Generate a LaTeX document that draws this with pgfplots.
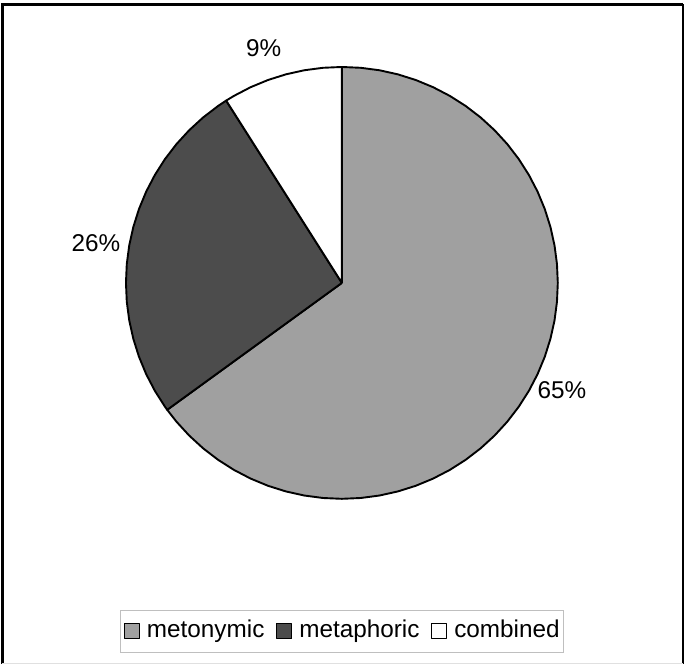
\documentclass[border=0pt]{standalone}
\usepackage{pgfplots}
\pgfplotsset{compat=1.18}
\usepackage{fontspec}
\setmainfont{Liberation Sans}
\definecolor{cMeto}{HTML}{A0A0A0}
\definecolor{cMeta}{HTML}{4C4C4C}
\begin{document}
\fontsize{24.3}{29}\selectfont
\begin{tikzpicture}
\begin{axis}[
  hide axis, clip=false, scale only axis,
  x=216pt, y=216pt,
  xmin=-1.58333, xmax=1.58333, ymin=-1.79167, ymax=1.31019,
  data cs=polar,
  legend columns=-1,
  legend cell align=left,
  legend image code/.code={\draw[#1, line width=0.9pt] (0pt,-7.5pt) rectangle (15pt,7.5pt);},
  legend style={at={(0.5,0.0575)}, anchor=center, draw=black!25, line width=1pt,
    inner xsep=4pt, inner ysep=10pt, font=\fontsize{24.3}{29}\selectfont,
    nodes={inner sep=0pt, text height=17pt, text depth=5pt},
    /tikz/every odd column/.append style={column sep=7pt},
    /tikz/every even column/.append style={column sep=12pt}},
]
\addplot[fill=cMeto, draw=black, line width=1.9pt, line join=round] coordinates {
(0,0) (90,1) (85,1) (80,1) (75,1) (70,1) (65,1) (60,1) (55,1) (50,1) (45,1) (40,1) (35,1) (30,1) (25,1) (20,1) (15,1) (10,1) (5,1) (0,1)
(-5,1) (-10,1) (-15,1) (-20,1) (-25,1) (-30,1) (-35,1) (-40,1) (-45,1) (-50,1) (-55,1) (-60,1) (-65,1) (-70,1) (-75,1) (-80,1) (-85,1) (-90,1)
(-95,1) (-100,1) (-105,1) (-110,1) (-115,1) (-120,1) (-125,1) (-130,1) (-135,1) (-140,1) (-144,1) (0,0)};
\addlegendentry{metonymic}
\addplot[fill=cMeta, draw=black, line width=1.9pt, line join=round] coordinates {
(0,0) (-144,1) (-145,1) (-150,1) (-155,1) (-160,1) (-165,1) (-170,1) (-175,1) (-180,1) (-185,1) (-190,1) (-195,1) (-200,1) (-205,1) (-210,1)
(-215,1) (-220,1) (-225,1) (-230,1) (-235,1) (-237.6,1) (0,0)};
\addlegendentry{metaphoric}
\addplot[fill=white, draw=black, line width=1.9pt, line join=round] coordinates {
(0,0) (90,1) (95,1) (100,1) (105,1) (110,1) (115,1) (120,1) (122.4,1) (0,0)};
\addlegendentry{combined}
\addplot[draw=none, mark=none, forget plot, nodes near coords, point meta=explicit symbolic,
  nodes near coords style={anchor=center, inner sep=0pt, font=\fontsize{24.3}{29}\selectfont}]
  coordinates {(-25.9,1.133) [65\%] (170.8,1.154) [26\%] (108.4,1.146) [9\%]};
\path (rel axis cs:0,0) rectangle (rel axis cs:1,1);
\draw[black, line width=2.5pt] (rel axis cs:0.00365,0.00896) -- (rel axis cs:0.00365,0.99328) -- (rel axis cs:0.99854,0.99328);
\draw[black, line width=1.5pt] (rel axis cs:0.99854,0.99328) -- (rel axis cs:0.99854,0.00896);
\draw[black!12, line width=1pt] (rel axis cs:0.00365,0.00896) -- (rel axis cs:0.99854,0.00896);
\end{axis}
\end{tikzpicture}
\end{document}
